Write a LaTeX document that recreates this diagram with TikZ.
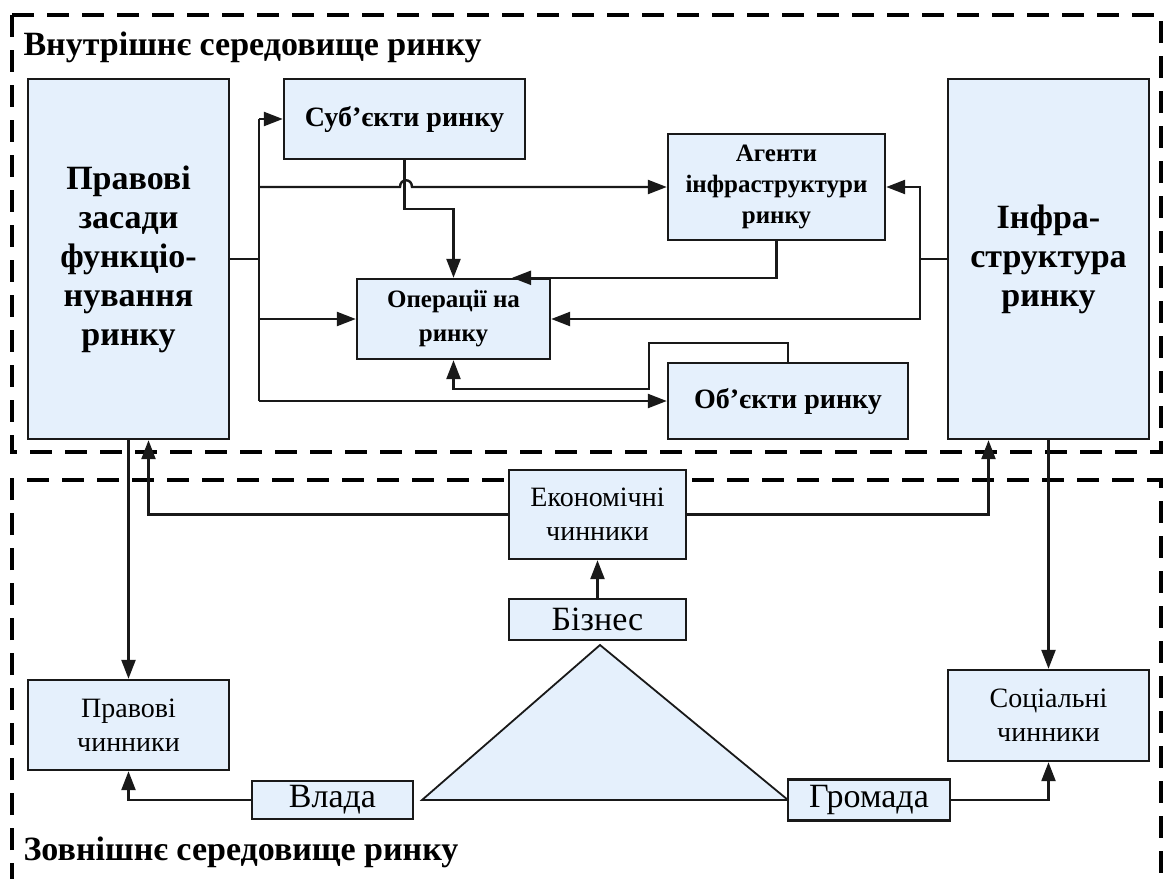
\documentclass[tikz,border=0pt]{standalone}
\usepackage{fontspec}
\setmainfont{Liberation Serif}
\usetikzlibrary{arrows.meta,calc}
\definecolor{boxblue}{RGB}{229,240,252}
\definecolor{ink}{RGB}{25,25,25}
\begin{document}
\begin{tikzpicture}[x=1pt,y=-1pt,
  box/.style 2 args={draw=ink, line width=2.4pt, fill=boxblue, inner sep=0pt,
    align=center, minimum width=#1pt, minimum height=#2pt},
  big/.style={font=\fontsize{34}{39}\selectfont\bfseries},
  mid/.style={font=\fontsize{28}{34}\selectfont\bfseries},
  small/.style={font=\fontsize{25}{31}\selectfont\bfseries},
  opfont/.style={font=\fontsize{25}{34}\selectfont\bfseries},
  plain/.style={font=\fontsize{28}{34}\selectfont},
  actor/.style={font=\fontsize{34}{36}\selectfont},
  zone/.style={draw=black, line width=4.5pt, dash pattern=on 22pt off 13pt},
  conn/.style={draw=ink, line width=2.4pt},
  arr/.style={conn, -{Triangle[length=19pt,width=14pt]}},
  tri/.style={draw=ink, line width=1.8pt, fill=boxblue, line join=miter}
]
\useasboundingbox (0,0) rectangle (1167,878);

% environment zones
\draw[zone] (12,15) rectangle (1161,452);
\draw[zone] (12,885) -- (12,480) -- (1161,480) -- (1161,885);
\node[big, anchor=west] (tin) at (20,47) {Внутрішнє середовище ринку};
\node[big, anchor=west] (tout) at (20,852) {Зовнішнє середовище ринку};

% triangle of actors
\coordinate (tA) at (422,800);
\coordinate (tB) at (600,645);
\coordinate (tC) at (788,800);
\draw[tri] (tA) -- (tB) -- (tC) -- cycle;

% inner environment
\node[box={201}{360}, big]   (lzas)  at (128.5,259) {Правові\\засади\\функціо-\\нування\\ринку};
\node[box={201}{360}, big]   (infra) at (1048.5,259) {Інфра-\\структура\\ринку};
\node[box={241}{80}, mid]    (subj)  at (404.5,119) {Суб’єкти ринку};
\node[box={217}{106}, small] (agent) at (776.5,187) {Агенти\\інфраструктури\\ринку};
\node[box={193}{80}, opfont] (oper)  at (453.5,319) {Операції на\\ринку};
\node[box={240}{76}, mid]    (obj)   at (788,401) {Об’єкти ринку};

% outer environment
\node[box={177}{89}, plain] (econ)  at (597.5,514.5) {Економічні\\чинники};
\node[box={177}{41}, actor] (biz)   at (597.5,619.5) {Бізнес};
\node[box={201}{90}, plain] (lprav) at (128.5,725) {Правові\\чинники};
\node[box={201}{91}, plain] (soc)   at (1048.5,715.5) {Соціальні\\чинники};
\node[box={161}{38}, actor] (vlada) at (332.5,800) {Влада};
\node[box={162}{41}, actor] (grom)  at (869,800) {Громада};

% distribution bus from the legal basis
\coordinate (bus1) at (259,119);
\coordinate (bus2) at (259,187);
\coordinate (bus3) at (259,259);
\coordinate (bus4) at (259,319);
\coordinate (bus5) at (259,401);
\draw[conn] (lzas.east) -- (bus3);
\draw[conn] (bus1) -- (bus5);
\draw[arr] (bus1) -- (subj.west);
\draw[arr] (bus2) -- (400,187) .. controls (400,178) and (412,178) .. (412,187) -- (agent.west);
\draw[arr] (bus4) -- (oper.west);
\draw[arr] (bus5) -- (obj.west);

% flows into market operations
\coordinate (opTR) at ($(oper.north)!0.6!(oper.north east)$);
\draw[arr] (subj.south) -- ++(0,49) -| (oper.north);
\draw[arr] (agent.south) |- (opTR);
\draw[arr] (obj.north) |- (649,343) -- (649,389) -| (oper.south);

% infrastructure links
\coordinate (jR) at (920,259);
\draw[conn] (infra.west) -- (jR);
\draw[arr] (jR) |- (agent.east);
\draw[arr] (jR) |- (oper.east);

% links between the two environments
\draw[arr] (lzas.south) -- (lprav.north);
\draw[arr] (econ.west) -| ($(lzas.south)+(20,0)$);
\draw[arr] (econ.east) -| ($(infra.south)+(-60,0)$);
\draw[arr] (infra.south) -- (soc.north);
\draw[arr] (biz.north) -- (econ.south);
\draw[arr] (vlada.west) -| (lprav.south);
\draw[arr] (grom.east) -| (soc.south);
\end{tikzpicture}
\end{document}
